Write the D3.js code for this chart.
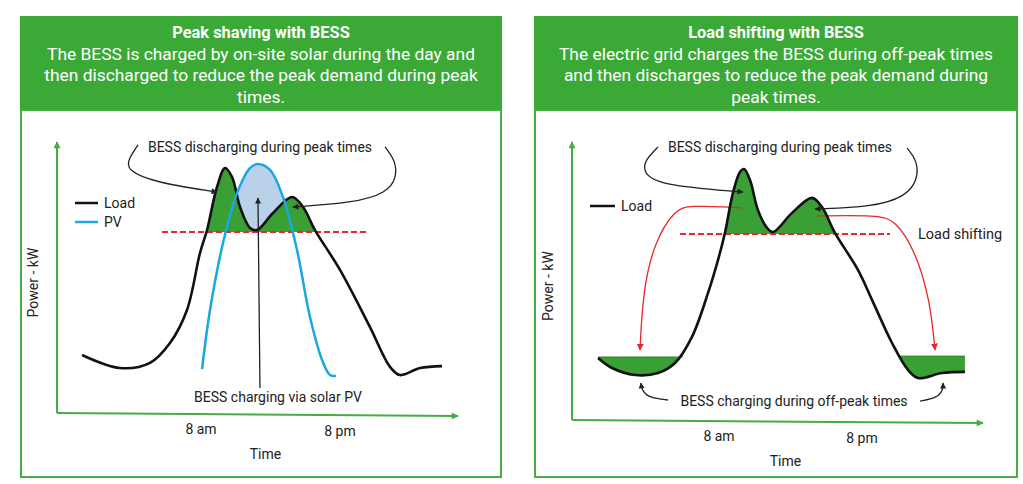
<!DOCTYPE html>
<html><head><meta charset="utf-8">
<script src="https://cdn.jsdelivr.net/npm/d3@7/dist/d3.min.js"></script>
<style>body{margin:0;background:#fff}svg{display:block;font-family:Roboto,"Noto Sans",sans-serif}</style>
</head><body><svg id="c" width="1023" height="484"></svg>
<script>
// ---- data (time in hours, power in relative kW units) ----
const tickLabels = ["8 am", "8 pm"];
const tickHours = [8, 20];
const loadLeft = [[-2.27,21.4],[1.01,16.6],[3.6,18.5],[5.32,25.8],[6.79,38.0],[7.91,59.0],[8.52,67.5],[9.38,83.4],[10.07,90.4],[10.68,87.1],[11.37,76.0],[12.23,68.3],[12.83,67.5],[14.22,73.8],[15.86,79.7],[16.81,76.0],[17.84,67.5],[20.0,52.8],[22.59,31.7],[24.32,17.0],[25.18,14.0],[26.91,16.6],[28.81,17.3]];
const pvLeft = [[8.09,16.2],[8.78,38.0],[9.9,62.7],[11.11,81.2],[12.23,90.4],[12.92,91.9],[13.96,89.7],[15.08,79.7],[16.29,60.1],[17.41,35.4],[18.45,19.6],[19.14,14.0],[19.66,13.7]];
const peakLimitLeft = 66.8;
const loadRight = [[-2.15,22.3],[-0.98,18.7],[0.95,16.2],[2.88,16.9],[4.31,20.5],[5.73,29.9],[7.08,45.7],[7.92,57.6],[8.5,67.3],[9.17,81.7],[9.76,89.2],[10.1,90.3],[10.6,86.3],[11.27,75.5],[12.03,69.1],[12.53,67.6],[14.13,74.5],[15.8,79.9],[16.64,76.6],[17.73,67.3],[19.66,54.0],[20.84,43.2],[22.52,27.7],[23.86,18.0],[24.7,15.1],[26.71,16.9],[28.64,17.3]];
const peakLimitRight = 66.9;
const offPeakLevelLeft = 22.7;   // charging band before the morning ramp
const offPeakLevelRight = 23.0;  // charging band after the evening drop
const offPeakSpanLeft = [-2.15, 5.0];
const offPeakSpanRight = [23.0, 28.64];

const titles = [
  {head:"Peak shaving with BESS", lines:["The BESS is charged by on-site solar during the day and","then discharged to reduce the peak demand during peak","times."]},
  {head:"Load shifting with BESS", lines:["The electric grid charges the BESS during off-peak times","and then discharges to reduce the peak demand during","peak times."]}
];

// annotation paths (data units)
const annLeft = {
  bracketL: [[2.56,98.9],[1.7,93.4],[1.61,89.7],[3.86,85.2],[9.38,81.5]],
  bracketR: [[23.89,98.2],[24.75,93.4],[24.92,87.1],[24.06,81.2],[21.12,77.5],[15.94,76.0]],
  pvArrow: [[13.09,9.2],[12.92,79.3]]
};
const annRight = {
  bracketL: [[2.88,98.2],[1.79,93.5],[1.62,89.2],[2.88,84.5],[10.01,82.0]],
  bracketR: [[23.78,97.8],[24.62,93.5],[24.7,86.3],[23.61,80.2],[20.84,76.6],[16.06,75.9]],
  shiftL: [[9.93,76.3],[5.4,77.3],[4.31,75.5],[2.63,64.7],[1.62,46.8],[1.37,25.2]],
  shiftR: [[16.22,73.4],[21.34,73.7],[22.77,71.9],[24.45,61.2],[25.71,43.2],[26.13,25.2]],
  chargeL: [[3.72,7.2],[2.21,7.9],[1.54,10.4],[1.45,13.3]],
  chargeR: [[24.87,6.8],[26.29,7.9],[26.8,10.8],[26.8,13.3]]
};

// ---- drawing ----
const svg = d3.select("#c");
const GREEN_HEAD = "#3ba936", GREEN_AX = "#45ad45", GREEN_FILL = "#3a9f34", BLUE = "#1aa8e0", LIGHTBLUE = "#b9d2ea", RED = "#e8262b";
const FS = 14;
const defs = svg.append("defs");
function marker(id, color, w, h) {
  defs.append("marker").attr("id", id).attr("viewBox", "0 0 10 10").attr("refX", 9).attr("refY", 5)
    .attr("markerWidth", w).attr("markerHeight", h).attr("markerUnits", "userSpaceOnUse").attr("orient", "auto")
    .append("path").attr("d", "M0,0L10,5L0,10Z").attr("fill", color);
}
marker("axArrow", GREEN_AX, 8, 7);
marker("blkArrow", "#222", 7, 6);
marker("redArrow", RED, 7, 7);

const panels = [
  {x0:20, x1:502, title:titles[0], xr:[201,340], yr:[413,142], axX:57, axRight:458, axBottom:413},
  {x0:534, x1:1018, title:titles[1], xr:[719,862], yr:[420,142], axX:572, axRight:983, axBottom:420}
];

panels.forEach((p, i) => {
  const g = svg.append("g");
  g.append("rect").attr("x", p.x0).attr("y", 16).attr("width", p.x1 - p.x0).attr("height", 94).attr("fill", GREEN_HEAD);
  g.append("rect").attr("x", p.x0 + 1).attr("y", 110).attr("width", p.x1 - p.x0 - 2).attr("height", 367).attr("fill", "#fff").attr("stroke", GREEN_AX).attr("stroke-width", 2);
  const cx = (p.x0 + p.x1) / 2;
  g.append("text").attr("x", cx).attr("y", 38).attr("text-anchor", "middle").attr("fill", "#fff").attr("font-weight", 700).attr("font-size", 16.4).text(p.title.head);
  p.title.lines.forEach((l, k) => g.append("text").attr("x", cx).attr("y", 59.5 + k * 21.5).attr("text-anchor", "middle").attr("fill", "#fff").attr("font-size", 17.4).text(l));

  const x = d3.scaleLinear().domain(tickHours).range(p.xr);
  const y = d3.scaleLinear().domain([0, 100]).range(p.yr);
  p.x = x; p.y = y;

  // axes
  g.append("line").attr("x1", p.axX).attr("y1", p.axBottom).attr("x2", p.axX).attr("y2", p.yr[1]).attr("stroke", GREEN_AX).attr("stroke-width", 2).attr("marker-end", "url(#axArrow)");
  g.append("line").attr("x1", p.axX).attr("y1", p.axBottom).attr("x2", p.axRight).attr("y2", p.axBottom + 3).attr("stroke", GREEN_AX).attr("stroke-width", 2).attr("marker-end", "url(#axArrow)");
  tickLabels.forEach((t, k) => g.append("text").attr("x", x(tickHours[k])).attr("y", p.axBottom + 21 + k * 2).attr("text-anchor", "middle").attr("font-size", FS).attr("fill", "#222").text(t));
  g.append("text").attr("x", (x(tickHours[0]) + x(tickHours[1])) / 2 - 5).attr("y", p.axBottom + 46).attr("text-anchor", "middle").attr("font-size", FS).attr("fill", "#222").text("Time");
  g.append("text").attr("transform", `translate(${p.axX - 19},${(p.axBottom + p.yr[1]) / 2 + 5}) rotate(-90)`).attr("text-anchor", "middle").attr("font-size", FS).attr("fill", "#222").text("Power - kW");
});

const curve = d3.curveCatmullRom.alpha(0.5);
const ann = d3.line().curve(d3.curveBasis);

// ---------- Left panel ----------
{
  const p = panels[0], x = p.x, y = p.y, g = svg.append("g");
  const line = d3.line().x(d => x(d[0])).y(d => y(d[1])).curve(curve);
  defs.append("clipPath").attr("id", "clipPeakL").append("rect").attr("x", 0).attr("y", 0).attr("width", 1023).attr("height", y(peakLimitLeft));
  g.append("path").attr("clip-path", "url(#clipPeakL)")
    .attr("d", d3.area().x(d => x(d[0])).y0(y(peakLimitLeft)).y1(d => y(d[1])).curve(curve)(loadLeft)).attr("fill", GREEN_FILL);
  defs.append("clipPath").attr("id", "clipAboveLoad").append("path")
    .attr("d", d3.area().x(d => x(d[0])).y0(0).y1(d => y(d[1])).curve(curve)(loadLeft));
  g.append("path").attr("clip-path", "url(#clipAboveLoad)")
    .attr("d", d3.area().x(d => x(d[0])).y0(y(0)).y1(d => y(d[1])).curve(curve)(pvLeft)).attr("fill", LIGHTBLUE);
  g.append("line").attr("x1", 162).attr("x2", 368).attr("y1", y(peakLimitLeft)).attr("y2", y(peakLimitLeft)).attr("stroke", RED).attr("stroke-width", 2).attr("stroke-dasharray", "6,3");
  g.append("path").attr("d", line(loadLeft)).attr("fill", "none").attr("stroke", "#111").attr("stroke-width", 2.6);
  g.append("path").attr("d", line(pvLeft)).attr("fill", "none").attr("stroke", BLUE).attr("stroke-width", 2.5);
  const sc = d => [x(d[0]), y(d[1])];
  ["bracketL", "bracketR", "pvArrow"].forEach(k => {
    const pts = annLeft[k].map(sc);
    g.append("path").attr("d", k === "pvArrow" ? d3.line()(pts) : ann(pts)).attr("fill", "none").attr("stroke", "#222").attr("stroke-width", 1.3).attr("marker-end", "url(#blkArrow)");
  });
  g.append("text").attr("x", 260).attr("y", 152).attr("text-anchor", "middle").attr("font-size", FS).attr("fill", "#222").text("BESS discharging during peak times");
  g.append("text").attr("x", 278).attr("y", 402).attr("text-anchor", "middle").attr("font-size", FS).attr("fill", "#222").text("BESS charging via solar PV");
  g.append("line").attr("x1", 75).attr("x2", 98).attr("y1", 203).attr("y2", 203).attr("stroke", "#111").attr("stroke-width", 2.5);
  g.append("text").attr("x", 104).attr("y", 208).attr("font-size", FS).attr("fill", "#222").text("Load");
  g.append("line").attr("x1", 75).attr("x2", 98).attr("y1", 222).attr("y2", 222).attr("stroke", BLUE).attr("stroke-width", 2.5);
  g.append("text").attr("x", 104).attr("y", 227).attr("font-size", FS).attr("fill", "#222").text("PV");
}

// ---------- Right panel ----------
{
  const p = panels[1], x = p.x, y = p.y, g = svg.append("g");
  const line = d3.line().x(d => x(d[0])).y(d => y(d[1])).curve(curve);
  defs.append("clipPath").attr("id", "clipPeakR").append("rect").attr("x", 0).attr("y", 0).attr("width", 1023).attr("height", y(peakLimitRight));
  g.append("path").attr("clip-path", "url(#clipPeakR)")
    .attr("d", d3.area().x(d => x(d[0])).y0(y(peakLimitRight)).y1(d => y(d[1])).curve(curve)(loadRight)).attr("fill", GREEN_FILL);
  [[offPeakLevelLeft, offPeakSpanLeft, "clipOffL"], [offPeakLevelRight, offPeakSpanRight, "clipOffR"]].forEach(([lvl, span, id]) => {
    defs.append("clipPath").attr("id", id).append("rect").attr("x", x(span[0])).attr("y", y(lvl)).attr("width", x(span[1]) - x(span[0])).attr("height", 200);
    g.append("path").attr("clip-path", `url(#${id})`)
      .attr("d", d3.area().x(d => x(d[0])).y0(y(lvl)).y1(d => y(d[1])).curve(curve)(loadRight)).attr("fill", GREEN_FILL);
    g.append("line").attr("x1", x(span[0])).attr("x2", x(span[1])).attr("y1", y(lvl)).attr("y2", y(lvl)).attr("stroke", "#2d7a27").attr("stroke-width", 0.8);
  });
  g.append("line").attr("x1", 680).attr("x2", 890).attr("y1", y(peakLimitRight)).attr("y2", y(peakLimitRight)).attr("stroke", RED).attr("stroke-width", 2).attr("stroke-dasharray", "6,3");
  const sc = d => [x(d[0]), y(d[1])];
  ["shiftL", "shiftR"].forEach(k => {
    g.append("path").attr("d", ann(annRight[k].map(sc))).attr("fill", "none").attr("stroke", RED).attr("stroke-width", 1.3).attr("marker-end", "url(#redArrow)");
  });
  g.append("path").attr("d", line(loadRight)).attr("fill", "none").attr("stroke", "#111").attr("stroke-width", 2.6);
  ["bracketL", "bracketR", "chargeL", "chargeR"].forEach(k => {
    g.append("path").attr("d", ann(annRight[k].map(sc))).attr("fill", "none").attr("stroke", "#222").attr("stroke-width", 1.3).attr("marker-end", "url(#blkArrow)");
  });
  g.append("text").attr("x", 780).attr("y", 152).attr("text-anchor", "middle").attr("font-size", FS).attr("fill", "#222").text("BESS discharging during peak times");
  g.append("text").attr("x", 794).attr("y", 406).attr("text-anchor", "middle").attr("font-size", FS).attr("fill", "#222").text("BESS charging during off-peak times");
  g.append("text").attr("x", 918).attr("y", 239).attr("font-size", FS + 0.5).attr("fill", "#222").text("Load shifting");
  g.append("line").attr("x1", 590).attr("x2", 615).attr("y1", 206).attr("y2", 206).attr("stroke", "#111").attr("stroke-width", 2.5);
  g.append("text").attr("x", 621).attr("y", 211).attr("font-size", FS).attr("fill", "#222").text("Load");
}
</script></body></html>
